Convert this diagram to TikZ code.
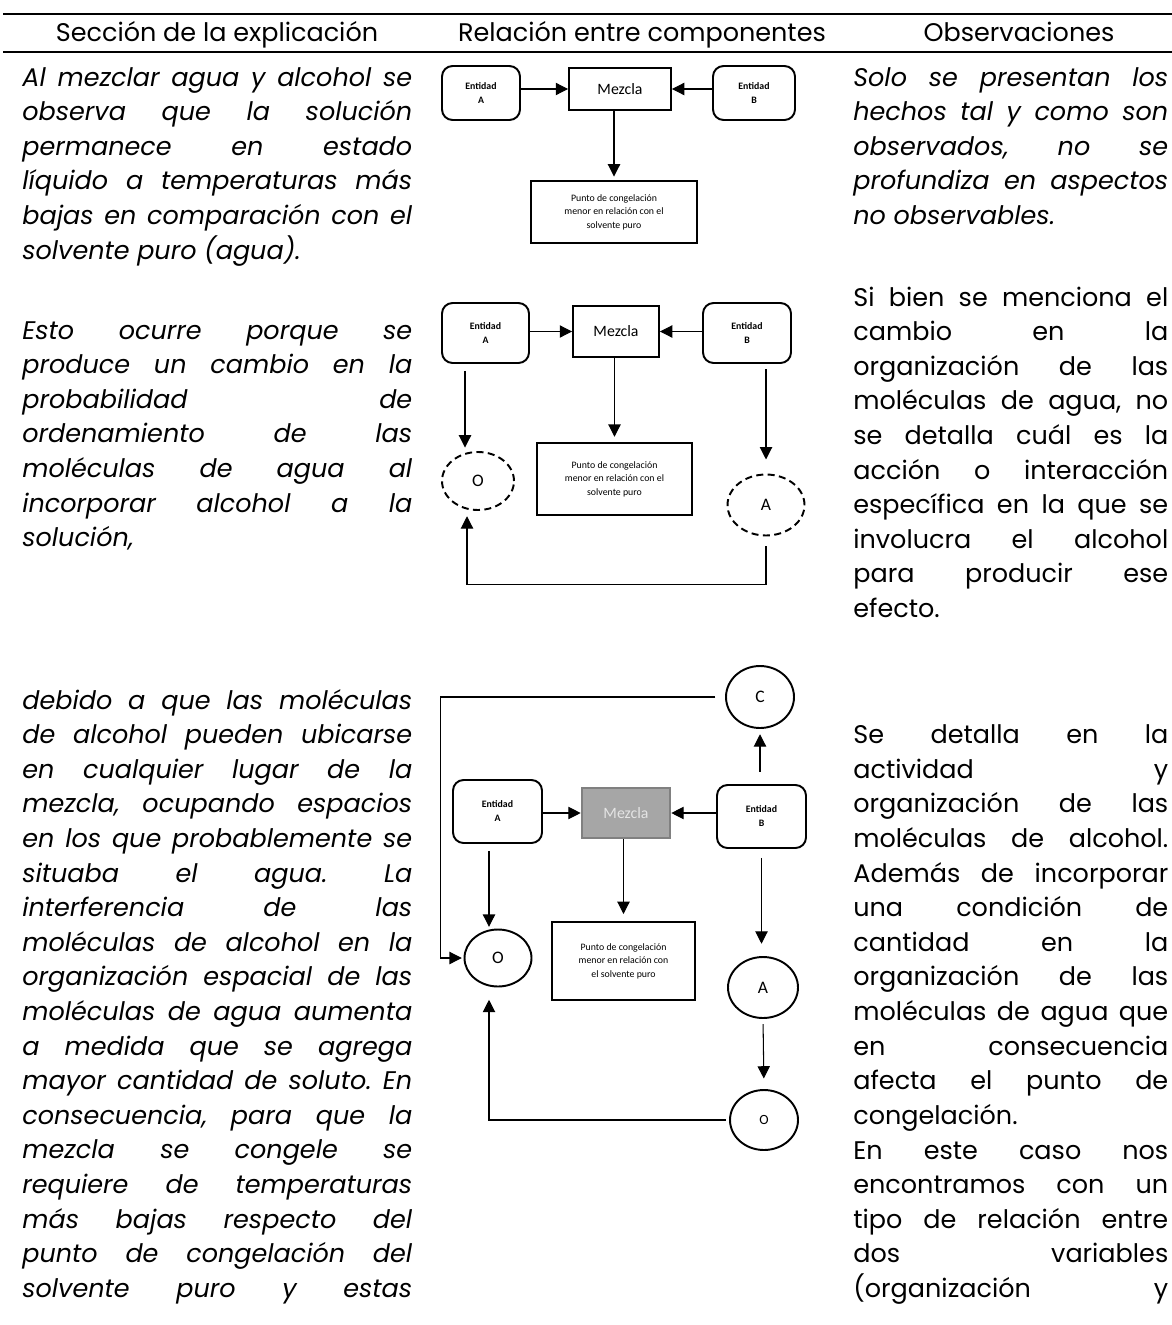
\documentclass[tikz,border=0pt]{standalone}
\usepackage{fontspec}
\setmainfont{Poppins}
\newfontfamily\calibri{Carlito}
\usetikzlibrary{positioning, shapes.geometric, arrows.meta, calc}
\hyphenpenalty=10000
\exhyphenpenalty=10000
\tolerance=10000
\frenchspacing
\definecolor{grismez}{RGB}{166,166,166}
\definecolor{bordemez}{RGB}{128,128,128}
\definecolor{letramez}{RGB}{228,228,228}

\tikzset{
  texto/.style={anchor=base west, inner sep=0pt, align=justify, font=\fontsize{14.5}{19.7}\selectfont},
  titulo/.style={anchor=base, inner sep=0pt, font=\fontsize{14.5}{19.7}\selectfont},
  entidad/.style={draw, line width=1.1pt, rounded corners=6pt, align=center, inner sep=0pt, font=\calibri\bfseries\fontsize{5.6}{8}\selectfont},
  mezcla/.style={draw, line width=1.1pt, inner sep=0pt, font=\calibri\fontsize{9}{10}\selectfont},
  punto/.style={draw, line width=1.1pt, align=center, inner sep=0pt, font=\calibri\fontsize{5.6}{7.7}\selectfont},
  estado/.style={ellipse, draw, line width=1.1pt, inner sep=0pt, font=\calibri\fontsize{10}{12}\selectfont},
  difuso/.style={estado, dash pattern=on 4pt off 2.5pt},
  flecha/.style={-{Triangle[length=7pt, width=7pt]}, line width=0.6pt},
}

\begin{document}
\begin{tikzpicture}[x=0.02cm, y=-0.02cm]
  \useasboundingbox (0,0) rectangle (1172,1325);

  % encabezado de la tabla
  \draw[line width=1.4pt] (3,14) -- (1172,14);
  \draw[line width=1.4pt] (3,52) -- (1172,52);
  \node[titulo] (tit1) at (217,41) {Sección de la explicación};
  \node[titulo] (tit2) at (642,41) {Relación entre componentes};
  \node[titulo] (tit3) at (1019,41) {Observaciones};

  % columna izquierda
  \node[texto, text width=7.8cm] (izq1) at (22,86) {\itshape Al mezclar agua y alcohol se\linebreak observa que la solución\linebreak permanece en estado\linebreak líquido a temperaturas más\linebreak bajas en comparación con el\linebreak solvente puro (agua).};
  \node[texto, text width=7.8cm] (izq2) at (22,339) {\itshape Esto ocurre porque se\linebreak produce un cambio en la\linebreak probabilidad de\linebreak ordenamiento de las\linebreak moléculas de agua al\linebreak incorporar alcohol a la\linebreak solución,};
  \node[texto, text width=7.8cm] (izq3) at (22,709) {\itshape debido a que las moléculas\linebreak de alcohol pueden ubicarse\linebreak en cualquier lugar de la\linebreak mezcla, ocupando espacios\linebreak en los que probablemente se\linebreak situaba el agua. La\linebreak interferencia de las\linebreak moléculas de alcohol en la\linebreak organización espacial de las\linebreak moléculas de agua aumenta\linebreak a medida que se agrega\linebreak mayor cantidad de soluto. En\linebreak consecuencia, para que la\linebreak mezcla se congele se\linebreak requiere de temperaturas\linebreak más bajas respecto del\linebreak punto de congelación del\linebreak solvente puro y estas\linebreak\mbox{}};

  % columna derecha
  \node[texto, text width=6.3cm] (der1) at (853,86) {\itshape Solo se presentan los\linebreak hechos tal y como son\linebreak observados, no se\linebreak profundiza en aspectos\linebreak no observables.};
  \node[texto, text width=6.3cm] (der2) at (853,306) {Si bien se menciona el\linebreak cambio en la\linebreak organización de las\linebreak moléculas de agua, no\linebreak se detalla cuál es la\linebreak acción o interacción\linebreak específica en la que se\linebreak involucra el alcohol\linebreak para producir ese\linebreak efecto.};
  \node[texto, text width=6.3cm] (der3) at (853,743.7) {\parindent=0pt Se detalla en la\linebreak actividad y\linebreak organización de las\linebreak moléculas de alcohol.\linebreak Además de incorporar\linebreak una condición de\linebreak cantidad en la\linebreak organización de las\linebreak moléculas de agua que\linebreak en consecuencia\linebreak afecta el punto de\linebreak congelación.\par En este caso nos\linebreak encontramos con un\linebreak tipo de relación entre\linebreak dos variables\linebreak (organización y\linebreak\mbox{}};

  % primer diagrama
  \node[entidad, minimum width=1.56cm, minimum height=1.08cm] (entA1) at (481,93) {Entidad\\A};
  \node[mezcla, minimum width=2.04cm, minimum height=0.84cm] (mez1) at (620,89) {Mezcla};
  \node[entidad, minimum width=1.64cm, minimum height=1.08cm] (entB1) at (754,93) {Entidad\\B};
  \node[punto, minimum width=3.32cm, minimum height=1.24cm] (pto1) at (614,212) {Punto de congelación\\menor en relación con el\\solvente puro};
  \draw[flecha] (entA1.east |- mez1.west) -- (mez1.west);
  \draw[flecha] (entB1.west |- mez1.east) -- (mez1.east);
  \draw[flecha, shorten >=2pt] (mez1.south -| pto1.north) -- (pto1.north);

  % segundo diagrama
  \node[entidad, minimum width=1.74cm, minimum height=1.2cm] (entA2) at (485.5,333) {Entidad\\A};
  \node[mezcla, minimum width=1.72cm, minimum height=1.02cm] (mez2) at (616,331.5) {Mezcla};
  \node[entidad, minimum width=1.76cm, minimum height=1.2cm] (entB2) at (747,333) {Entidad\\B};
  \node[punto, minimum width=3.1cm, minimum height=1.44cm] (pto2) at (614.5,479) {Punto de congelación\\menor en relación con el\\solvente puro};
  \node[difuso, minimum width=1.44cm, minimum height=1.16cm] (estO2) at (478,481) {O};
  \node[difuso, minimum width=1.54cm, minimum height=1.22cm] (estA2) at (766,505) {A};
  \draw[flecha] (entA2.east |- mez2.west) -- (mez2.west);
  \draw[flecha] (entB2.west |- mez2.east) -- (mez2.east);
  \draw[flecha, shorten >=3pt] (mez2.south -| pto2.north) -- (pto2.north);
  \draw[flecha, shorten <=4pt, shorten >=2pt] ([xshift=-0.41cm]entA2.south) -- ([xshift=-0.41cm]entA2.south |- estO2.north);
  \draw[flecha, shorten <=3pt, shorten >=8pt] (estA2.north |- entB2.south) -- (estA2.north);
  \draw[flecha, shorten <=5.5pt, shorten >=3pt] (estA2.south) -- ++(0,48) -| ([xshift=-0.22cm]estO2.south);

  % tercer diagrama
  \node[estado, minimum width=1.36cm, minimum height=1.24cm] (estC3) at (760,697) {C};
  \node[entidad, minimum width=1.78cm, minimum height=1.26cm] (entA3) at (497.5,811.5) {Entidad\\A};
  \node[mezcla, fill=grismez, draw=bordemez, line width=1.5pt, text=letramez, minimum width=1.76cm, minimum height=1cm] (mez3) at (626,813) {Mezcla};
  \node[entidad, minimum width=1.78cm, minimum height=1.26cm] (entB3) at (761.5,816.5) {Entidad\\B};
  \node[punto, minimum width=2.86cm, minimum height=1.56cm] (pto3) at (623.5,961) {Punto de congelación\\menor en relación con\\el solvente puro};
  \node[estado, minimum width=1.34cm, minimum height=1.14cm] (estO3) at (498,958) {O};
  \node[estado, minimum width=1.4cm, minimum height=1.22cm] (estA3) at (763,987.5) {A};
  \node[estado, minimum width=1.36cm, minimum height=1.2cm, font=\calibri\fontsize{8}{9}\selectfont] (estO3b) at (764,1120) {O};
  \draw[flecha, shorten <=7pt, shorten >=3pt] (entB3.north -| estC3.south) -- (estC3.south);
  \draw[flecha, shorten <=5.5pt, shorten >=1pt] (estC3.west) -- ++(-285,0) |- (estO3.west);
  \draw[flecha] (entA3.east |- mez3.west) -- (mez3.west);
  \draw[flecha] (entB3.west |- mez3.east) -- (mez3.east);
  \draw[flecha, shorten >=4pt] (mez3.south -| pto3.north) -- (pto3.north);
  \draw[flecha, shorten <=4pt, shorten >=1pt] ([xshift=-0.17cm]entA3.south) -- ([xshift=-0.17cm]entA3.south |- estO3.north);
  \draw[flecha, shorten <=5pt, shorten >=7pt] (entB3.south) -- (entB3.south |- estA3.north);
  \draw[flecha, shorten <=3pt, shorten >=6pt] (estA3.south) -- (estO3b.north);
  \draw[flecha, shorten <=2pt, shorten >=7pt] (estO3b.west) -| ([xshift=-0.18cm]estO3.south);
\end{tikzpicture}
\end{document}
